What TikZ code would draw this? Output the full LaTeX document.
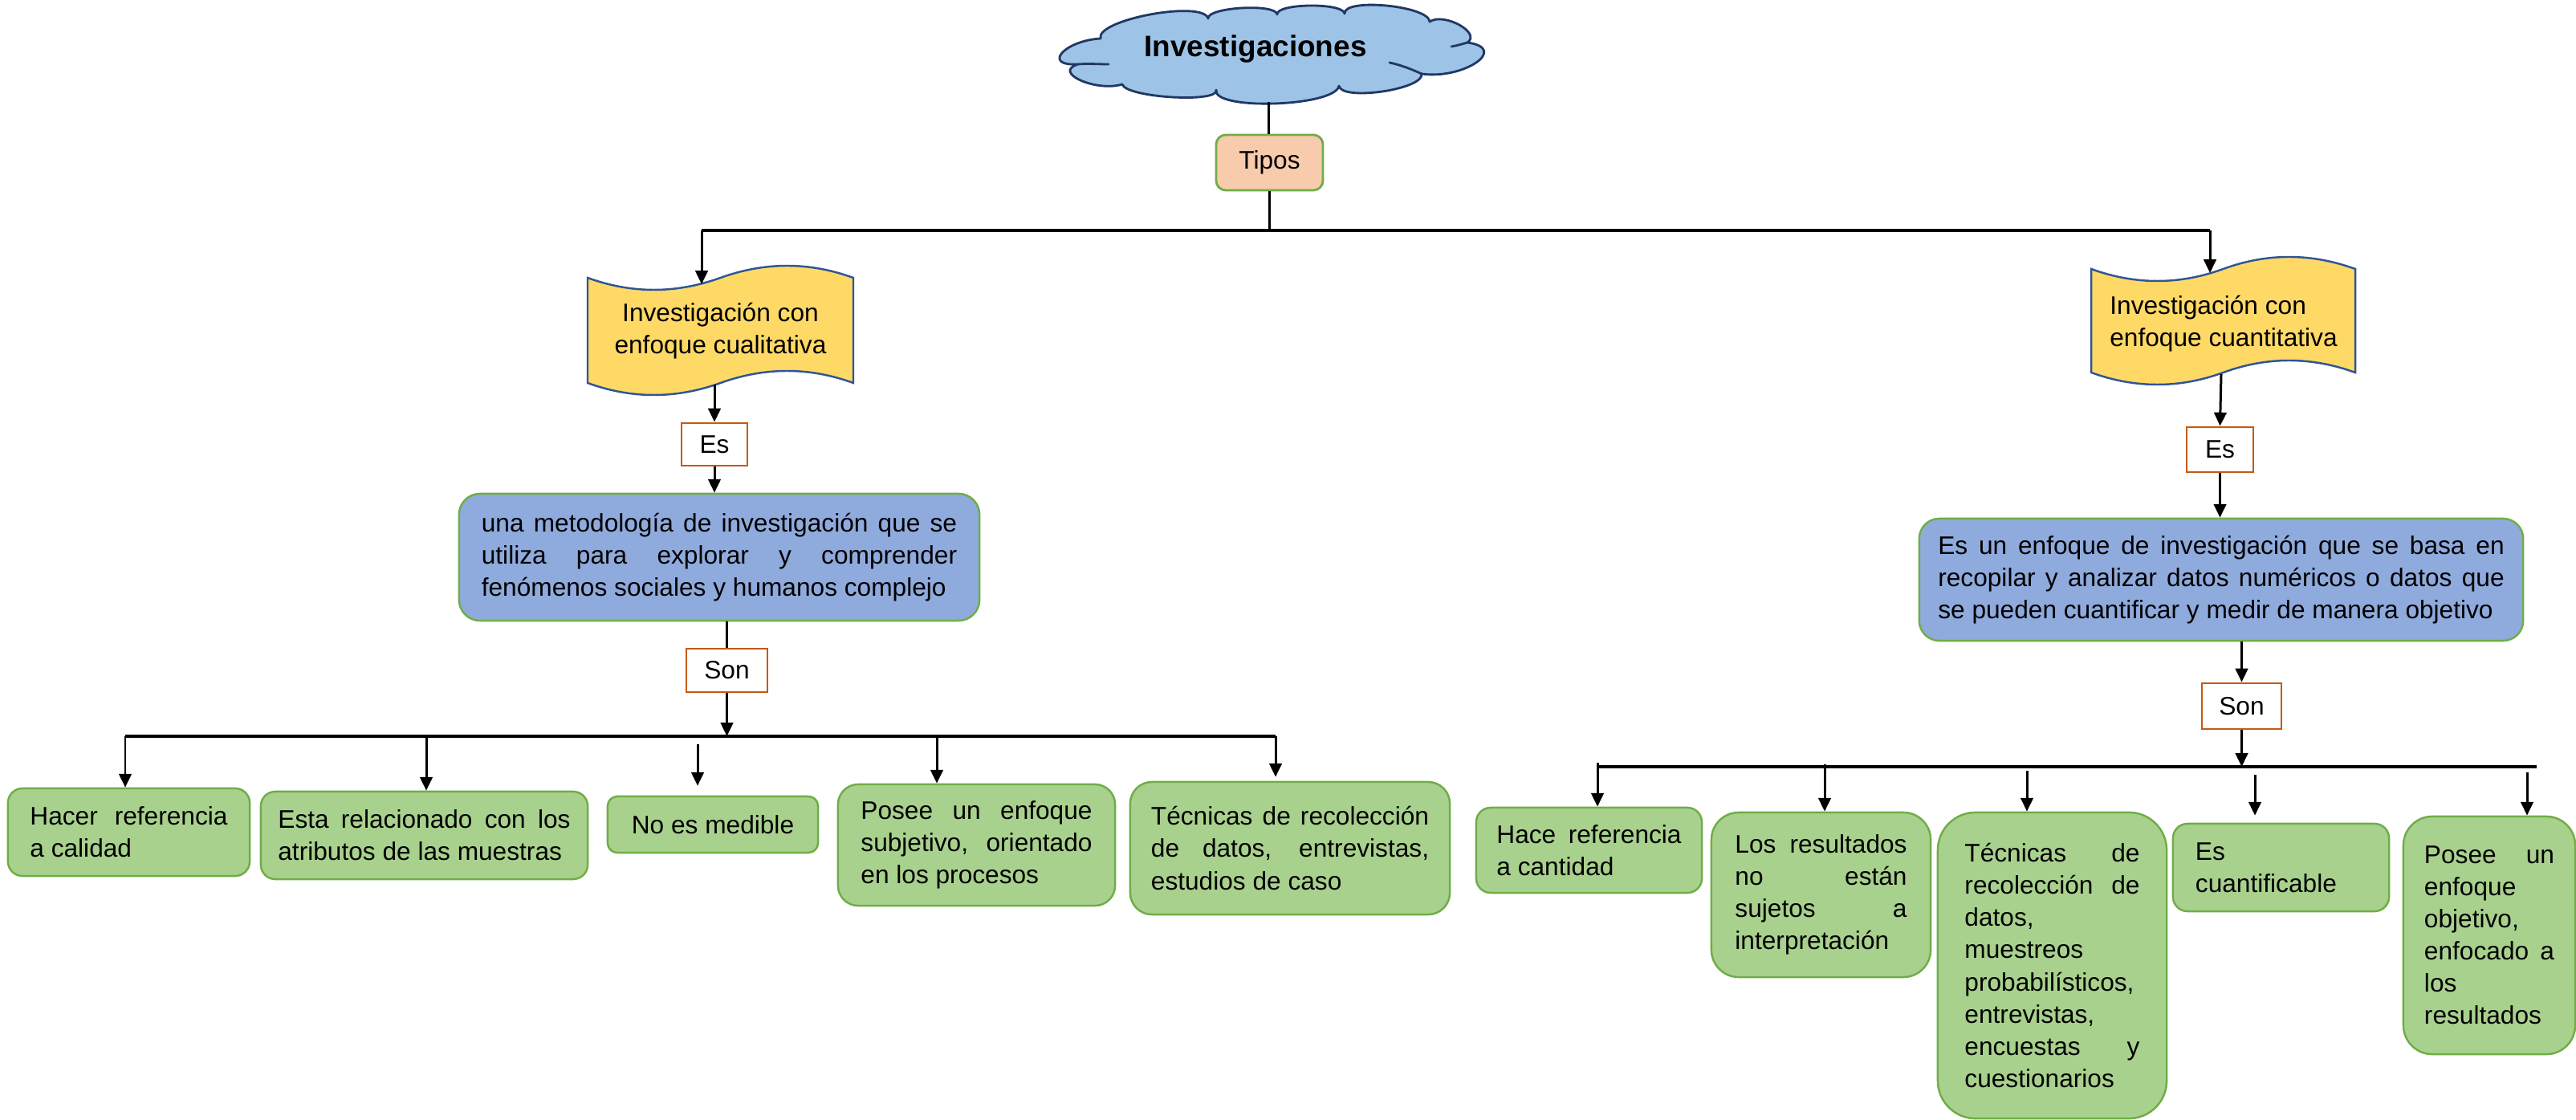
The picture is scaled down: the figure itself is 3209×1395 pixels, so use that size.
\documentclass[tikz,border=0pt]{standalone}
\usepackage{fontspec}
\setmainfont{Liberation Sans}
\usetikzlibrary{arrows.meta,calc}
\definecolor{grnfill}{HTML}{A9D18E}
\definecolor{grnline}{HTML}{70AD47}
\definecolor{bluefill}{HTML}{8FAADC}
\definecolor{yel}{HTML}{FFD966}
\definecolor{tapeline}{HTML}{2F5597}
\definecolor{cloudfill}{HTML}{9DC3E6}
\definecolor{cloudline}{HTML}{203864}
\definecolor{orng}{HTML}{C55A11}
\definecolor{peach}{HTML}{F8CBAD}
\hyphenpenalty=10000
\exhyphenpenalty=10000
\tolerance=10000
\begin{document}
\begin{tikzpicture}[x=0.01cm,y=-0.01cm,
  font=\fontsize{9}{11.4}\selectfont,
  arr/.style={line width=0.85pt,-{Triangle[width=4.4pt,length=4.8pt]}},
  plain/.style={line width=0.85pt},
  bus/.style={line width=1.1pt},
  gbox/.style={draw=grnline,fill=grnfill,line width=0.7pt,align=justify,inner sep=0pt},
  bbox/.style={draw=grnline,fill=bluefill,line width=0.7pt,align=justify,inner sep=0pt},
  lbl/.style={draw=orng,fill=white,line width=0.8pt,inner sep=0pt},
  tapeshape/.style={draw=tapeline,fill=yel,line width=0.7pt},
  cstroke/.style={draw=cloudline,line width=0.8pt,line cap=round}]
\fill[white] (0,0) rectangle (3209,1395);
\useasboundingbox (0,0) rectangle (3209,1395);

% title cloud
\coordinate (J1) at (1371,48);   \coordinate (E1) at (1433,18);
\coordinate (J2) at (1505,23);   \coordinate (E2) at (1547,10);
\coordinate (J3) at (1591,18);   \coordinate (E3) at (1632,7);
\coordinate (J4) at (1675,17);   \coordinate (E4) at (1727,7);
\coordinate (J5) at (1781,27);   \coordinate (E5) at (1818,31);
\coordinate (J6) at (1828,53);   \coordinate (E6) at (1839,78);
\coordinate (J7) at (1771,92);   \coordinate (E7) at (1722,114);
\coordinate (J8) at (1668,107);  \coordinate (E8) at (1588,129);
\coordinate (J9) at (1515,112);  \coordinate (E9) at (1460,121);
\coordinate (J10) at (1398,105); \coordinate (E10) at (1346,100);
\coordinate (J11) at (1343,80);  \coordinate (E11) at (1323,66);
\draw[draw=cloudline,fill=cloudfill,line width=0.8pt,line join=round]
 (J1) .. controls ($0.3333*(J1)+1.3333*(E1)-0.6667*(J2)$) and ($0.3333*(J2)+1.3333*(E1)-0.6667*(J1)$) .. (J2)
      .. controls ($0.3333*(J2)+1.3333*(E2)-0.6667*(J3)$) and ($0.3333*(J3)+1.3333*(E2)-0.6667*(J2)$) .. (J3)
      .. controls ($0.3333*(J3)+1.3333*(E3)-0.6667*(J4)$) and ($0.3333*(J4)+1.3333*(E3)-0.6667*(J3)$) .. (J4)
      .. controls ($0.3333*(J4)+1.3333*(E4)-0.6667*(J5)$) and ($0.3333*(J5)+1.3333*(E4)-0.6667*(J4)$) .. (J5)
      .. controls ($0.3333*(J5)+1.3333*(E5)-0.6667*(J6)$) and ($0.3333*(J6)+1.3333*(E5)-0.6667*(J5)$) .. (J6)
      .. controls ($0.3333*(J6)+1.3333*(E6)-0.6667*(J7)$) and ($0.3333*(J7)+1.3333*(E6)-0.6667*(J6)$) .. (J7)
      .. controls ($0.3333*(J7)+1.3333*(E7)-0.6667*(J8)$) and ($0.3333*(J8)+1.3333*(E7)-0.6667*(J7)$) .. (J8)
      .. controls ($0.3333*(J8)+1.3333*(E8)-0.6667*(J9)$) and ($0.3333*(J9)+1.3333*(E8)-0.6667*(J8)$) .. (J9)
      .. controls ($0.3333*(J9)+1.3333*(E9)-0.6667*(J10)$) and ($0.3333*(J10)+1.3333*(E9)-0.6667*(J9)$) .. (J10)
      .. controls ($0.3333*(J10)+1.3333*(E10)-0.6667*(J11)$) and ($0.3333*(J11)+1.3333*(E10)-0.6667*(J10)$) .. (J11)
      .. controls ($0.3333*(J11)+1.3333*(E11)-0.6667*(J1)$) and ($0.3333*(J1)+1.3333*(E11)-0.6667*(J11)$) .. (J1) -- cycle;
\draw[cstroke] (J11) .. controls (1355,79) and (1368,80) .. (1381,80);
\draw[cstroke] (J6) .. controls (1821,55) and (1814,57) .. (1808,58);
\draw[cstroke] (J7) .. controls (1758,86) and (1745,81) .. (1731,78);
\coordinate (cloudbot) at (1580,127);
\node[font=\bfseries\fontsize{10.5}{12}\selectfont] (title) at (1564,61) {Investigaciones};
\node[draw=grnline,fill=peach,rounded corners=0.12cm,line width=0.8pt,minimum width=1.33cm,minimum height=0.69cm,inner sep=0pt] (tipos) at (1581.5,202.5) {Tipos};
\draw[plain] (cloudbot) -- (cloudbot |- tipos.north);
\coordinate (busL) at (874,287);
\coordinate (busR) at (2753,287);
\draw[bus] (busL) -- (busR);
\draw[plain] (tipos.south) -- (tipos.south |- busL);

% tapes
\draw[tapeshape] (732,346) .. controls (787,366) and (842,366) .. (897.5,346) .. controls (953,326) and (1008,326) .. (1063,346) -- (1063,477) .. controls (1008,457) and (953,457) .. (897.5,477) .. controls (842,497) and (787,497) .. (732,477) -- cycle;
\node[align=center] (qual) at (897.5,412) {Investigación con\\enfoque cualitativa};
\draw[tapeshape] (2605,335) .. controls (2660,355) and (2715,355) .. (2769.5,335) .. controls (2824,315) and (2879,315) .. (2934,335) -- (2934,464) .. controls (2879,444) and (2824,444) .. (2769.5,464) .. controls (2715,484) and (2660,484) .. (2605,464) -- cycle;
\node[align=left] (quant) at (2770,403) {Investigación con\\enfoque cuantitativa};
\coordinate (qualtop) at (874,354);
\coordinate (quanttop) at (2753,340);
\draw[arr] (busL) -- (qualtop);
\draw[arr] (busR) -- (quanttop);
\coordinate (qualbot) at (890,479);
\coordinate (quantbot) at (2767,466);

% left branch
\node[lbl,minimum width=0.82cm,minimum height=0.53cm] (es1) at (890,553.5) {Es};
\draw[arr] (qualbot) -- (es1.north);
\node[bbox,rounded corners=0.26cm,minimum width=6.48cm,minimum height=1.58cm,text width=5.92cm] (blue1) at (896,694) {una metodología de investigación que se\linebreak utiliza para explorar y comprender\linebreak fenómenos sociales y humanos complejo};
\draw[arr] (es1.south) -- (es1.south |- blue1.north);
\node[lbl,minimum width=1.01cm,minimum height=0.54cm] (son1) at (905.5,835) {Son};
\draw[plain] (son1.north |- blue1.south) -- (son1.north);
\coordinate (bl1) at (156,917);
\coordinate (bl2) at (1589,917);
\draw[bus] (bl1) -- (bl2);
\draw[arr] (son1.south) -- (son1.south |- bl1);

\node[gbox,rounded corners=0.18cm,minimum width=3.01cm,minimum height=1.09cm,text width=2.46cm] (a1) at (160.5,1036.5) {Hacer referencia\linebreak a calidad};
\node[gbox,rounded corners=0.18cm,minimum width=4.07cm,minimum height=1.09cm,text width=3.64cm] (a2) at (528.5,1040.5) {Esta relacionado con los\linebreak atributos de las muestras};
\node[gbox,rounded corners=0.12cm,minimum width=2.62cm,minimum height=0.70cm] (a3) at (888,1027) {No es medible};
\node[gbox,rounded corners=0.25cm,minimum width=3.45cm,minimum height=1.51cm,text width=2.88cm] (a4) at (1216.5,1052.5) {Posee un enfoque\linebreak subjetivo, orientado\linebreak en los procesos};
\node[gbox,rounded corners=0.27cm,minimum width=3.98cm,minimum height=1.65cm,text width=3.46cm] (a5) at (1607,1056.5) {Técnicas de recolección\linebreak de datos, entrevistas,\linebreak estudios de caso};
\coordinate (t1) at (156,917);
\coordinate (t2) at (531,917);
\coordinate (t3) at (869,927);
\coordinate (t4) at (1167,917);
\draw[arr] (t1) -- (t1 |- a1.north);
\draw[arr] (t2) -- (t2 |- a2.north);
\draw[arr,shorten >=0.12cm] (t3) -- (t3 |- a3.north);
\draw[arr] (t4) -- (t4 |- a4.north);
\draw[arr,shorten >=0.05cm] (bl2) -- (bl2 |- a5.north);

% right branch
\node[lbl,minimum width=0.83cm,minimum height=0.56cm] (es2) at (2765.5,560) {Es};
\draw[arr] (quantbot) -- (es2.north);
\node[bbox,rounded corners=0.25cm,minimum width=7.52cm,minimum height=1.52cm,text width=7.05cm] (blue2) at (2767,722) {Es un enfoque de investigación que se basa en\linebreak recopilar y analizar datos numéricos o datos que\linebreak se pueden cuantificar y medir de manera objetivo};
\draw[arr] (es2.south) -- (es2.south |- blue2.north);
\node[lbl,minimum width=0.99cm,minimum height=0.57cm] (son2) at (2792.5,879.5) {Son};
\draw[arr] (son2.north |- blue2.south) -- (son2.north);
\coordinate (br1) at (1989,955);
\coordinate (br2) at (3160,955);
\draw[bus] (br1) -- (br2);
\draw[arr] (son2.south) -- (son2.south |- br1);

\node[gbox,rounded corners=0.18cm,minimum width=2.81cm,minimum height=1.06cm,text width=2.30cm] (b1) at (1979.5,1059) {Hace referencia\linebreak a cantidad};
\node[gbox,rounded corners=0.34cm,minimum width=2.73cm,minimum height=2.05cm,text width=2.14cm] (b2) at (2268.5,1114.5) {Los resultados\linebreak no están\linebreak sujetos a\linebreak interpretación};
\node[gbox,rounded corners=0.47cm,minimum width=2.85cm,minimum height=3.81cm,text width=2.18cm] (b3) at (2556.5,1202.5) {Técnicas de\linebreak recolección de\linebreak datos,\\muestreos\\probabilísticos,\\entrevistas,\\encuestas y\linebreak cuestionarios};
\node[gbox,rounded corners=0.18cm,minimum width=2.69cm,minimum height=1.09cm,text width=2.13cm,align=left] (b4) at (2841.5,1080.5) {Es\\cuantificable};
\node[gbox,rounded corners=0.36cm,minimum width=2.14cm,minimum height=2.96cm,text width=1.62cm] (b5) at (3101,1165) {Posee un\linebreak enfoque\\objetivo,\\enfocado a\linebreak los\\resultados};
\coordinate (u1) at (1990,950);
\coordinate (u2) at (2273,952);
\coordinate (u3) at (2525,960);
\coordinate (u4) at (2809,965);
\coordinate (u5) at (3148,962);
\draw[arr] (u1) -- (u1 |- b1.north);
\draw[arr] (u2) -- (u2 |- b2.north);
\draw[arr] (u3) -- (u3 |- b3.north);
\draw[arr,shorten >=0.09cm] (u4) -- (u4 |- b4.north);
\draw[arr] (u5) -- (u5 |- b5.north);
\end{tikzpicture}
\end{document}
